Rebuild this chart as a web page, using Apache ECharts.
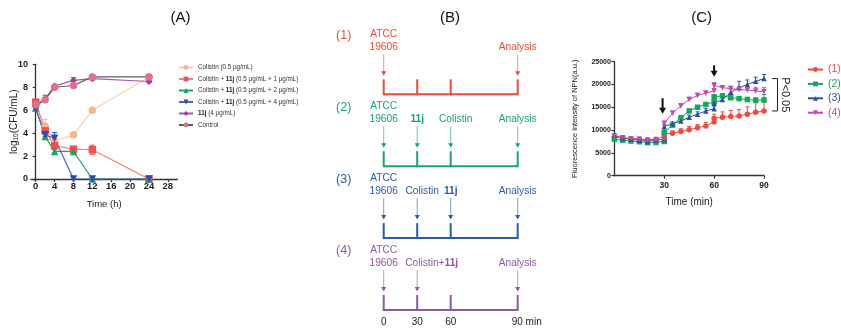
<!DOCTYPE html>
<html>
<head>
<meta charset="utf-8">
<script src="https://cdn.jsdelivr.net/npm/echarts@6/dist/echarts.min.js"></script>
<style>
  html, body { margin: 0; padding: 0; background: #fff; }
  #main { width: 841px; height: 332px; }
</style>
</head>
<body>
<div id="main"></div>
<script>
// ---- panel A : time-kill curves ----
var timesA = [0, 2, 4, 8, 12, 24];
var colistinA = [6.45, 4.6, 3.3, 3.85, 6.0, 8.9];
var comb1A = [6.7, 4.2, 2.9, 2.6, 2.55, 0];
var comb2A = [6.2, 3.7, 2.4, 2.4, 0, 0];
var comb4A = [6.1, 3.85, 3.55, 0, 0, 0];
var cpd11jA = [6.3, 7.0, 8.1, 8.6, 8.75, 8.5];
var controlA = [6.5, 6.9, 8.0, 8.15, 8.9, 8.9];
var colistinErrA = [0.15, 0.6, 0.2, 0.15, 0.1, 0.1];
var comb1ErrA = [0.15, 0.3, 0.2, 0.2, 0.4, 0];
var comb2ErrA = [0.1, 0.2, 0.15, 0.15, 0, 0];
var comb4ErrA = [0.1, 0.15, 0.5, 0, 0, 0];
var cpd11jErrA = [0.1, 0.3, 0.15, 0.25, 0.15, 0.1];
var controlErrA = [0.1, 0.2, 0.1, 0.15, 0.2, 0.1];
var xTicksA = [0, 4, 8, 12, 16, 20, 24, 28];

// ---- panel B : protocol timelines ----
var bCats = ['0', '30', '60', '', '90 min'];
var bRows = ['(1)', '(2)', '(3)', '(4)'];
var bRowColors = ['#EF4A37', '#17A56A', '#2A5CAA', '#8C59A6'];
var bTicks = [0, 1, 2, 4];
var bEvents = [
  [0, 1, 'ATCC\n19606'], [4, 1, 'Analysis'],
  [0, 2, 'ATCC\n19606'], [1, 2, '11j'], [2, 2, 'Colistin'], [4, 2, 'Analysis'],
  [0, 3, 'ATCC\n19606'], [1, 3, 'Colistin'], [2, 3, '11j'], [4, 3, 'Analysis'],
  [0, 4, 'ATCC\n19606'], [1, 4, 'Colistin+11j'], [4, 4, 'Analysis']
];

// ---- panel C : NPN uptake ----
var timesC = [0, 5, 10, 15, 20, 25, 30, 30, 35, 40, 45, 50, 55, 60, 60, 65, 70, 75, 80, 85, 90];
var npn1 = [8400, 8300, 8100, 8000, 7900, 8000, 8600, 9200, 9300, 9700, 10100, 10500, 10900, 11800, 12600, 12800, 13000, 13100, 13500, 13900, 14200];
var npn2 = [8000, 7800, 7600, 7450, 7250, 7300, 7500, 9500, 11100, 12700, 14200, 15000, 15600, 16200, 17300, 17500, 17100, 16900, 16700, 16500, 16600];
var npn3 = [8900, 8200, 8000, 7800, 7500, 7800, 8000, 10800, 11400, 12000, 12800, 13500, 14200, 14700, 15900, 16700, 18300, 19300, 20000, 20700, 21300];
var npn4 = [8700, 8300, 8100, 8000, 7700, 7800, 8000, 11500, 13700, 15300, 16700, 17600, 18100, 18600, 19800, 19300, 19100, 18900, 18800, 18600, 18400];
var npn1Err = [300, 300, 300, 400, 300, 300, 300, 400, 500, 600, 700, 700, 800, 800, 900, 1200, 1300, 1400, 1600, 2900, 2000];
var npn2Err = [200, 200, 200, 200, 200, 200, 200, 300, 300, 400, 400, 400, 500, 500, 500, 500, 400, 400, 500, 600, 1200];
var npn3Err = [300, 200, 200, 200, 200, 200, 200, 400, 400, 500, 500, 500, 500, 600, 500, 600, 700, 1400, 1000, 900, 900];
var npn4Err = [300, 200, 200, 200, 200, 200, 200, 400, 500, 500, 500, 500, 500, 500, 600, 400, 500, 600, 700, 800, 900];
var xTicksC = [30, 60, 90];
var addArrowsC = [[29, 17000, 13600], [60, 24200, 21700]];
var bracketC = [[90, 21300, 14200]];

var FONT = 'Liberation Sans, Arial, sans-serif';

function zip(xs, ys, es) {
  return xs.map(function (x, i) { return es ? [x, ys[i], es[i]] : [x, ys[i]]; });
}

function errBars(color, oneSided, cap) {
  return function (params, api) {
    var x = api.value(0), y = api.value(1), e = api.value(2);
    if (!e) return;
    var top = api.coord([x, y + e]);
    var bot = api.coord([x, oneSided ? y : y - e]);
    var st = { stroke: color, lineWidth: 1 };
    var kids = [
      { type: 'line', shape: { x1: top[0], y1: top[1], x2: bot[0], y2: bot[1] }, style: st },
      { type: 'line', shape: { x1: top[0] - cap, y1: top[1], x2: top[0] + cap, y2: top[1] }, style: st }
    ];
    if (!oneSided) {
      kids.push({ type: 'line', shape: { x1: bot[0] - cap, y1: bot[1], x2: bot[0] + cap, y2: bot[1] }, style: st });
    }
    return { type: 'group', children: kids };
  };
}

function boldify(s) { return s.replace('11j', '{b|11j}'); }

var chart = echarts.init(document.getElementById('main'), null, { renderer: 'canvas' });

// series A definitions
var defsA = [
  { name: 'Colistin (0.5 μg/mL)', data: colistinA, err: colistinErrA, color: '#F8B78A', line: '#FAD1B0', symbol: 'circle' },
  { name: 'Colistin + 11j (0.5 μg/mL + 1 μg/mL)', data: comb1A, err: comb1ErrA, color: '#F0504F', line: '#F47E7C', symbol: 'rect' },
  { name: 'Colistin + 11j (0.5 μg/mL + 2 μg/mL)', data: comb2A, err: comb2ErrA, color: '#1DA462', line: '#1DA462', symbol: 'triangle' },
  { name: 'Colistin + 11j (0.5 μg/mL + 4 μg/mL)', data: comb4A, err: comb4ErrA, color: '#2C4DAE', line: '#4A66C0', symbol: 'triangle', rot: 180 },
  { name: '11j (4 μg/mL)', data: cpd11jA, err: cpd11jErrA, color: '#9A3F9E', line: '#A657A8', symbol: 'diamond' },
  { name: 'Control', data: controlA, err: controlErrA, color: '#E0708C', line: '#5E5E5E', symbol: 'circle', errColor: '#777' }
];

var defsC = [
  { name: '(1)', data: npn1, err: npn1Err, color: '#EE4B3F', symbol: 'circle' },
  { name: '(2)', data: npn2, err: npn2Err, color: '#14A85A', symbol: 'rect' },
  { name: '(3)', data: npn3, err: npn3Err, color: '#2B4FA8', symbol: 'triangle' },
  { name: '(4)', data: npn4, err: npn4Err, color: '#C847A8', symbol: 'triangle', rot: 180 }
];

var series = [];

defsA.forEach(function (d) {
  series.push({
    type: 'custom', xAxisIndex: 0, yAxisIndex: 0, silent: true, z: 1,
    renderItem: errBars(d.errColor || d.color, false, 2.5),
    data: zip(timesA, d.data, d.err)
  });
});
defsA.forEach(function (d) {
  series.push({
    type: 'line', name: d.name, xAxisIndex: 0, yAxisIndex: 0, z: 3,
    data: zip(timesA, d.data),
    symbol: d.symbol, symbolSize: d.symbol === 'diamond' ? 7 : 7.5, symbolRotate: d.rot || 0,
    itemStyle: { color: d.color },
    lineStyle: { color: d.line, width: 1.2 },
    animation: false
  });
});

// panel B timelines
series.push({
  type: 'custom', xAxisIndex: 1, yAxisIndex: 1, silent: true,
  data: bRows.map(function (r, i) { return [0, i + 1]; }),
  renderItem: function (params, api) {
    var row = api.value(1);
    var color = bRowColors[params.dataIndex];
    var p0 = api.coord([0, row]);
    var p4 = api.coord([4, row]);
    var kids = [
      { type: 'line', shape: { x1: p0[0], y1: p0[1], x2: p4[0], y2: p4[1] }, style: { stroke: color, lineWidth: 2 } },
      { type: 'text', x: p0[0] - 40, y: p0[1] - 59,
        style: { text: bRows[params.dataIndex], fill: color, font: '12.5px ' + FONT, align: 'center', verticalAlign: 'middle' } }
    ];
    bTicks.forEach(function (t) {
      var p = api.coord([t, row]);
      kids.push({ type: 'line', shape: { x1: p[0], y1: p[1] + 1, x2: p[0], y2: p[1] - 15 }, style: { stroke: color, lineWidth: 2 } });
    });
    return { type: 'group', children: kids };
  }
});

// panel B events (arrow + label)
series.push({
  type: 'custom', xAxisIndex: 1, yAxisIndex: 1, silent: true,
  data: bEvents.map(function (e) { return [e[0], e[1]]; }),
  renderItem: function (params, api) {
    var ev = bEvents[params.dataIndex];
    var color = bRowColors[ev[1] - 1];
    var p = api.coord([api.value(0), api.value(1)]);
    var x = p[0], y = p[1];
    // label placement: long labels start just left of the arrow
    var align = 'center', tx = x;
    if (ev[2] === 'Colistin+11j') { align = 'left'; tx = x - 12; }
    else if (ev[2] === 'Colistin') { tx = x + 5; }
    return {
      type: 'group', children: [
        { type: 'line', shape: { x1: x, y1: y - 40, x2: x, y2: y - 22 }, style: { stroke: color, lineWidth: 1, opacity: 0.6 } },
        { type: 'polygon', shape: { points: [[x - 2.5, y - 23], [x + 2.5, y - 23], [x, y - 18.5]] }, style: { fill: color } },
        { type: 'text', x: tx, y: y - 40,
          style: {
            text: boldify(ev[2]), fill: color, font: '10.2px ' + FONT, align: align, verticalAlign: 'bottom', lineHeight: 13.5,
            rich: { b: { fontWeight: 'bold', fontSize: 10.2, fontFamily: FONT, fill: color, lineHeight: 13.5 } }
          } }
      ]
    };
  }
});

// panel C
defsC.forEach(function (d) {
  series.push({
    type: 'custom', xAxisIndex: 2, yAxisIndex: 2, silent: true, z: 1,
    renderItem: errBars(d.color, true, 2),
    data: zip(timesC, d.data, d.err)
  });
});
defsC.forEach(function (d) {
  series.push({
    type: 'line', name: d.name, xAxisIndex: 2, yAxisIndex: 2, z: 3,
    data: zip(timesC, d.data),
    symbol: d.symbol, symbolSize: 5.5, symbolRotate: d.rot || 0,
    itemStyle: { color: d.color },
    lineStyle: { color: d.color, width: 1 },
    animation: false
  });
});

// addition arrows in C
series.push({
  type: 'custom', xAxisIndex: 2, yAxisIndex: 2, silent: true, z: 5,
  data: addArrowsC,
  renderItem: function (params, api) {
    var a = api.coord([api.value(0), api.value(1)]);
    var b = api.coord([api.value(0), api.value(2)]);
    return {
      type: 'group', children: [
        { type: 'line', shape: { x1: a[0], y1: a[1], x2: b[0], y2: b[1] - 5 }, style: { stroke: '#111', lineWidth: 2 } },
        { type: 'polygon', shape: { points: [[b[0] - 3.5, b[1] - 6], [b[0] + 3.5, b[1] - 6], [b[0], b[1]]] }, style: { fill: '#111' } }
      ]
    };
  }
});

// significance bracket in C
series.push({
  type: 'custom', xAxisIndex: 2, yAxisIndex: 2, silent: true, z: 5,
  data: bracketC,
  renderItem: function (params, api) {
    var a = api.coord([api.value(0), api.value(1)]);
    var b = api.coord([api.value(0), api.value(2)]);
    var x0 = a[0] + 8, x1 = a[0] + 13.5;
    var st = { stroke: '#222', lineWidth: 1 };
    return {
      type: 'group', children: [
        { type: 'line', shape: { x1: x0, y1: a[1], x2: x1, y2: a[1] }, style: st },
        { type: 'line', shape: { x1: x1, y1: a[1], x2: x1, y2: b[1] }, style: st },
        { type: 'line', shape: { x1: x0, y1: b[1], x2: x1, y2: b[1] }, style: st },
        { type: 'text', x: x1 + 8, y: (a[1] + b[1]) / 2, rotation: -Math.PI / 2,
          style: { text: 'P<0.05', fill: '#222', font: '11px ' + FONT, align: 'center', verticalAlign: 'middle' } }
      ]
    };
  }
});

var axisLineStyle = { lineStyle: { color: '#333', width: 1.3 } };
var plain = function (v) { return String(v); };

var option = {
  animation: false,
  textStyle: { fontFamily: FONT },
  title: [
    { text: '(A)', left: 175.6, top: 5, textAlign: 'center', textStyle: { fontSize: 15, fontWeight: 'normal', color: '#111', fontFamily: FONT } },
    { text: '(B)', left: 445, top: 5, textAlign: 'center', textStyle: { fontSize: 15, fontWeight: 'normal', color: '#111', fontFamily: FONT } },
    { text: '(C)', left: 696.7, top: 5, textAlign: 'center', textStyle: { fontSize: 15, fontWeight: 'normal', color: '#111', fontFamily: FONT } }
  ],
  legend: [
    {
      orient: 'vertical', left: 173, top: 59.5, itemWidth: 14, itemHeight: 6, itemGap: 5.5,
      data: defsA.map(function (d) { return d.name; }),
      formatter: function (n) { return boldify(n); },
      textStyle: { fontSize: 6.3, color: '#333', fontFamily: FONT,
        rich: { b: { fontSize: 6.3, fontWeight: 'bold', color: '#222', fontFamily: FONT } } }
    },
    {
      orient: 'vertical', left: 802, top: 59, itemWidth: 15, itemHeight: 6, itemGap: 3.4,
      data: defsC.map(function (d) { return { name: d.name, textStyle: { color: d.color } }; }),
      textStyle: { fontSize: 10.5, fontFamily: FONT }
    }
  ],
  grid: [
    { left: 31, top: 64.3, width: 146.3, height: 114.7 },
    { left: 383.7, top: 94.3, width: 134, height: 215.7 },
    { left: 614.4, top: 61.7, width: 149.6, height: 114 }
  ],
  xAxis: [
    {
      type: 'value', gridIndex: 0, min: -1, max: 30,
      name: 'Time (h)', nameLocation: 'middle', nameGap: 20,
      nameTextStyle: { fontSize: 9.5, color: '#222', fontFamily: FONT },
      axisLine: axisLineStyle,
      axisTick: { customValues: xTicksA, length: 3, lineStyle: { color: '#333', width: 1.2 } },
      axisLabel: { customValues: xTicksA, fontSize: 9.5, fontWeight: 'bold', color: '#222', margin: 2 },
      splitLine: { show: false }
    },
    {
      type: 'category', gridIndex: 1, data: bCats, boundaryGap: false,
      axisLine: { show: false }, axisTick: { show: false },
      axisLabel: {
        interval: 0, fontSize: 10, color: '#222', margin: 7,
        formatter: function (v) { return v.length > 2 ? '{w|' + v + '}' : v; },
        rich: { w: { fontSize: 10, color: '#222', padding: [0, 0, 0, 18] } }
      }
    },
    {
      type: 'value', gridIndex: 2, min: 0, max: 90,
      name: 'Time (min)', nameLocation: 'middle', nameGap: 22,
      nameTextStyle: { fontSize: 10, color: '#222', fontFamily: FONT },
      axisLine: axisLineStyle,
      axisTick: { customValues: xTicksC, length: 3, lineStyle: { color: '#333', width: 1.2 } },
      axisLabel: { customValues: xTicksC, fontSize: 8.5, fontWeight: 'bold', color: '#222', margin: 5 },
      splitLine: { show: false }
    }
  ],
  yAxis: [
    {
      type: 'value', gridIndex: 0, min: 0, max: 10, interval: 2,
      name: 'log{s|10}(CFU/mL)', nameLocation: 'middle', nameGap: 11, nameMoveOverlap: false,
      nameTextStyle: { fontSize: 10, color: '#222', fontFamily: FONT, lineHeight: 12,
        rich: { s: { fontSize: 6.5, verticalAlign: 'bottom', lineHeight: 12, color: '#222' } } },
      axisLine: { show: true, lineStyle: { color: '#333', width: 1.3 } },
      axisTick: { show: true, length: 3, lineStyle: { color: '#333', width: 1.2 } },
      axisLabel: { fontSize: 9, fontWeight: 'bold', color: '#222', margin: 3 },
      splitLine: { show: false }
    },
    { type: 'value', gridIndex: 1, min: 1, max: 4, inverse: true, show: false, splitLine: { show: false } },
    {
      type: 'value', gridIndex: 2, min: 0, max: 25000, interval: 5000,
      name: 'Fluorescence intensity of NPN(a.u.)', nameLocation: 'middle', nameGap: 35,
      nameTextStyle: { fontSize: 7.5, color: '#222', fontFamily: FONT },
      axisLine: { show: true, lineStyle: { color: '#333', width: 1.3 } },
      axisTick: { show: true, length: 3, lineStyle: { color: '#333', width: 1.2 } },
      axisLabel: { fontSize: 7, fontWeight: 'bold', color: '#222', margin: 3.5, formatter: plain },
      splitLine: { show: false }
    }
  ],
  series: series
};

chart.setOption(option);
</script>
</body>
</html>
